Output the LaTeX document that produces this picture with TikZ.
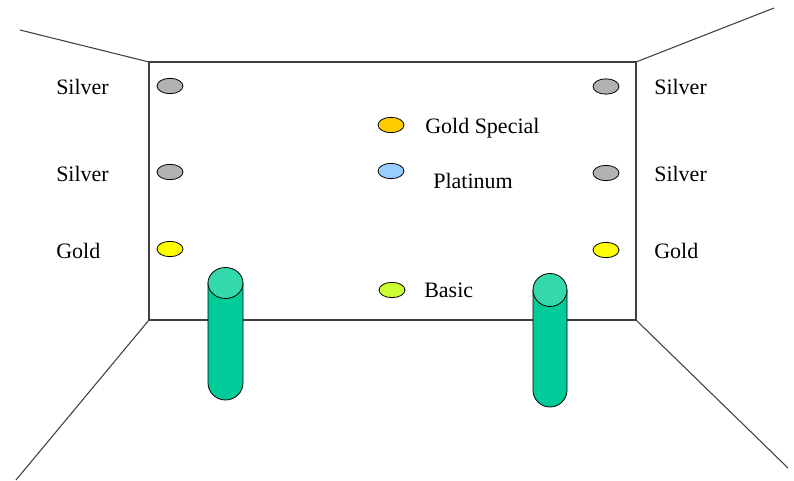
\documentclass[tikz,border=0pt]{standalone}
\usepackage{fontspec}
\setmainfont{Liberation Serif}
\usetikzlibrary{shapes.geometric}
\definecolor{wallline}{RGB}{64,64,64}
\definecolor{silvc}{RGB}{178,178,178}
\definecolor{goldc}{RGB}{255,255,0}
\definecolor{goldsp}{RGB}{255,204,0}
\definecolor{platc}{RGB}{153,204,255}
\definecolor{basicc}{RGB}{204,255,51}
\definecolor{cylbody}{RGB}{0,204,153}
\definecolor{cyltop}{RGB}{51,217,170}
\tikzset{
  wall/.style={draw=wallline, line width=0.8pt},
  lamp/.style={ellipse, draw=black, line width=0.6pt, inner sep=0pt, minimum width=19.5pt, minimum height=11.5pt},
  lbl/.style={anchor=base west, inner sep=0pt, font=\fontsize{16.5}{19}\selectfont},
  cyl/.style={draw=black, line width=0.6pt, fill=cylbody},
  cyltopst/.style={draw=black, line width=0.6pt, fill=cyltop}
}
\begin{document}
\begin{tikzpicture}[x=0.75pt,y=-0.75pt]
\useasboundingbox (0,0) rectangle (794,481);
% walls
\draw[wall] (149,62) rectangle (636,320);
\draw[wall] (20,30) -- (149,62);
\draw[wall] (636,62) -- (774,8);
\draw[wall] (149,320) -- (16,480);
\draw[wall] (636,320) -- (788,468);
% lamps left
\node[lamp, fill=silvc] (l1) at (170,86) {};
\node[lamp, fill=silvc] (l2) at (170,172) {};
\node[lamp, fill=goldc] (l3) at (170,249) {};
% lamps right
\node[lamp, fill=silvc] (r1) at (606,86.5) {};
\node[lamp, fill=silvc] (r2) at (606,173) {};
\node[lamp, fill=goldc] (r3) at (606,250) {};
% lamps middle
\node[lamp, fill=goldsp] (m1) at (391,125) {};
\node[lamp, fill=platc] (m2) at (391,171) {};
\node[lamp, fill=basicc] (m3) at (392,290) {};
% labels
\node[lbl] (tl1) at (56,95) {Silver};
\node[lbl] (tl2) at (56,182) {Silver};
\node[lbl] (tl3) at (56,259) {Gold};
\node[lbl] (tr1) at (654,95) {Silver};
\node[lbl] (tr2) at (654,182) {Silver};
\node[lbl] (tr3) at (654,259) {Gold};
\node[lbl] (tm1) at (425,134) {Gold Special};
\node[lbl] (tm2) at (433,189) {Platinum};
\node[lbl] (tm3) at (424,298) {Basic};
% cylinders
\draw[cyl] (208,283) -- (208,383) arc[start angle=180, end angle=360, x radius=17.5, y radius=-17] -- (243,283) -- cycle;
\draw[cyltopst] (225.5,283) ellipse[x radius=17.5, y radius=15.5];
\draw[cyl] (533,290) -- (533,390) arc[start angle=180, end angle=360, x radius=17, y radius=-17] -- (567,290) -- cycle;
\draw[cyltopst] (550,290) ellipse[x radius=17, y radius=16.5];
\end{tikzpicture}
\end{document}
